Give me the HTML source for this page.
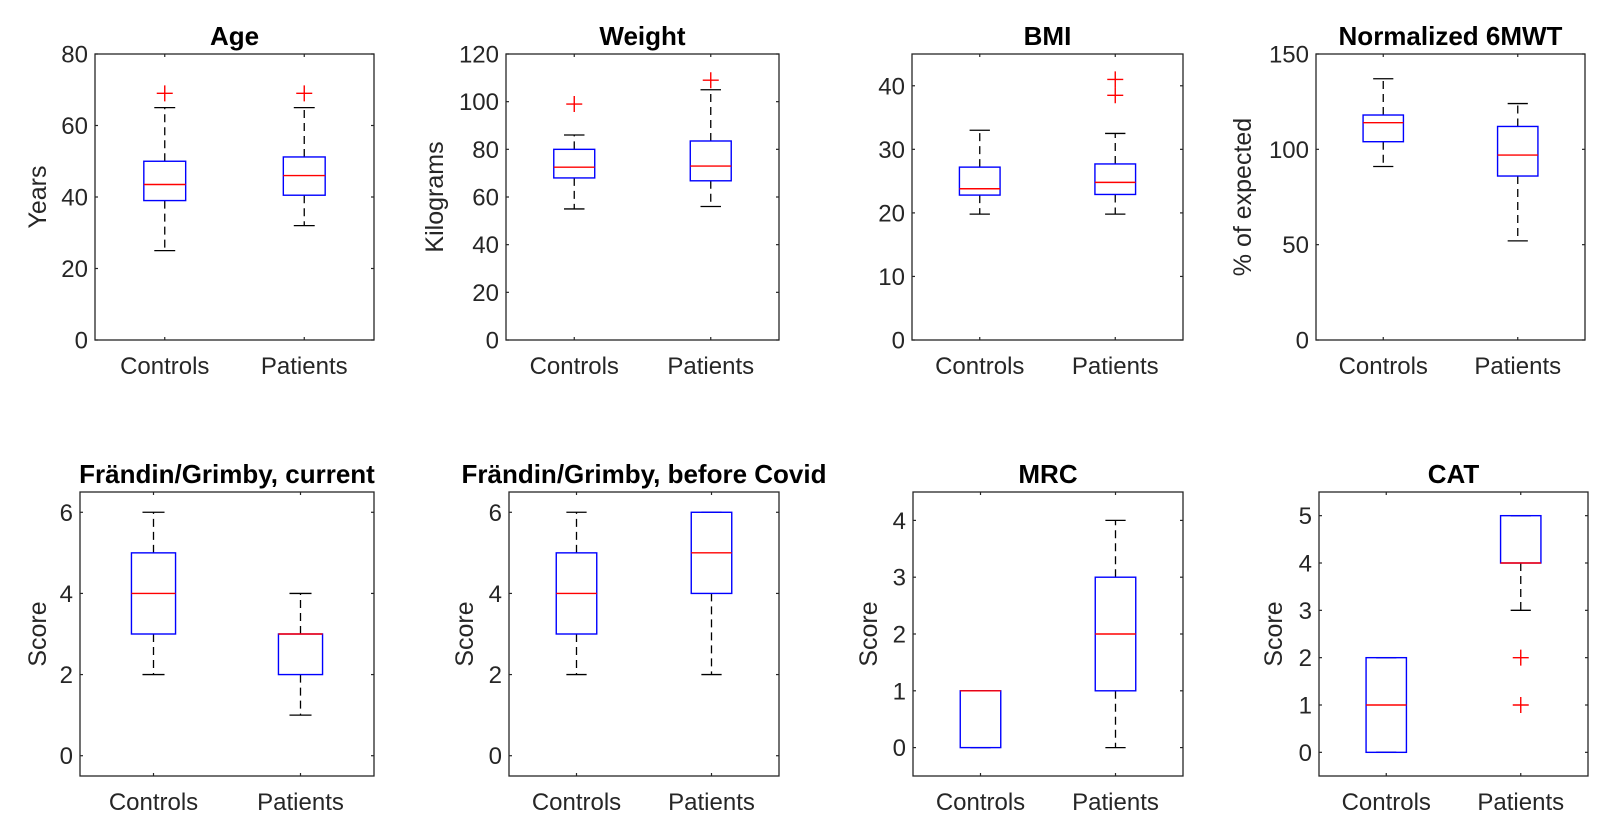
<!DOCTYPE html>
<html><head><meta charset="utf-8"><style>
html,body{margin:0;padding:0;background:#fff;}
svg{display:block;font-family:"Liberation Sans",Arial,sans-serif;}
</style></head><body>
<svg id="fig" width="1624" height="835" viewBox="0 0 1624 835" xmlns="http://www.w3.org/2000/svg"></svg>
<script>
const categories = ["Controls","Patients"];
const titles = ["Age","Weight","BMI","Normalized 6MWT","Frändin/Grimby, current","Frändin/Grimby, before Covid","MRC","CAT"];
const yLabels = ["Years","Kilograms","","% of expected","Score","Score","Score","Score"];
const yMins = [0,0,0,0,-0.5,-0.5,-0.5,-0.5];
const yMaxs = [80,120,45,150,6.5,6.5,4.5,5.5];
const yTicks = [[0,20,40,60,80],[0,20,40,60,80,100,120],[0,10,20,30,40],[0,50,100,150],[0,2,4,6],[0,2,4,6],[0,1,2,3,4],[0,1,2,3,4,5]];
// per panel: [controls, patients]
const whiskerLow = [[25,32],[55,56],[19.8,19.8],[91,52],[2,1],[2,2],[0,0],[0,3]];
const boxQ1 = [[39,40.5],[68,66.8],[22.8,22.9],[104,86],[3,2],[3,4],[0,1],[0,4]];
const medians = [[43.5,46],[72.5,73],[23.8,24.8],[114,97],[4,3],[4,5],[1,2],[1,4]];
const boxQ3 = [[50,51.2],[80,83.5],[27.2,27.7],[118,112],[5,3],[5,6],[1,3],[2,5]];
const whiskerHigh = [[65,65],[86,105],[33,32.5],[137,124],[6,4],[6,6],[1,4],[2,5]];
const outliers = [[[69],[69]],[[99],[109]],[[],[38.5,41]],[[],[]],[[],[]],[[],[]],[[],[]],[[],[2,1]]];

const layout = [
 {l:95,r:374,t:54,b:340,yl:38},{l:506,r:779,t:54,b:340,yl:435},{l:912,r:1183,t:54,b:340,yl:0},{l:1316,r:1585,t:54,b:340,yl:1243},
 {l:80,r:374,t:492,b:776,yl:38},{l:509,r:779,t:492,b:776,yl:465},{l:913,r:1183,t:492,b:776,yl:869},{l:1319,r:1588,t:492,b:776,yl:1274}
];
const NS="http://www.w3.org/2000/svg";
const svg=document.getElementById('fig');
function mk(tag,attrs,parent){const e=document.createElementNS(NS,tag);for(const k in attrs)e.setAttribute(k,attrs[k]);(parent||svg).appendChild(e);return e;}

for(let p=0;p<8;p++){
  const L=layout[p];
  const g=mk('g',{});
  
  
  const yS=v=>L.b-(v-yMins[p])/(yMaxs[p]-yMins[p])*(L.b-L.t);
  const xPos=i=>L.l+(i+0.5)/2*(L.r-L.l);
  const unit=(L.r-L.l)/2;
  const fr=mk('rect',{x:L.l,y:L.t,width:L.r-L.l,height:L.b-L.t,fill:'none',stroke:'#262626','stroke-width':1.3},g);
  
  
  yTicks[p].forEach(v=>{
    const y=yS(v);
    mk('line',{x1:L.l,x2:L.l+3,y1:y,y2:y,stroke:'#262626','stroke-width':1.2},g);
    mk('line',{x1:L.r,x2:L.r-3,y1:y,y2:y,stroke:'#262626','stroke-width':1.2},g);
    const t=mk('text',{x:L.l-7,y:y+8.5,'text-anchor':'end','font-size':24,fill:'#262626'},g);
    t.textContent=v;
    
    
  });
  categories.forEach((c,i)=>{
    const x=xPos(i);
    mk('line',{x1:x,x2:x,y1:L.b,y2:L.b-3,stroke:'#262626','stroke-width':1.2},g);
    mk('line',{x1:x,x2:x,y1:L.t,y2:L.t+3,stroke:'#262626','stroke-width':1.2},g);
    const t=mk('text',{x:x,y:L.b+34,'text-anchor':'middle','font-size':24,fill:'#262626'},g);
    t.textContent=c;
    
    
  });
  const tt=mk('text',{x:(L.l+L.r)/2,y:L.t-9,'text-anchor':'middle','font-size':26,'font-weight':'bold',fill:'#000'},g);
  tt.textContent=titles[p];
  
  
  if(yLabels[p]){
    const cy=(L.t+L.b)/2;
    const yl=mk('text',{x:L.yl,y:cy,'text-anchor':'middle','font-size':25,fill:'#262626',transform:'rotate(-90 '+L.yl+' '+cy+')','dominant-baseline':'central'},g);
    yl.textContent=yLabels[p];
    
    
  }
  categories.forEach((c,i)=>{
    const x=xPos(i), hw=unit*0.15, cw=unit*0.075;
    const bg=mk('g',{},g);
    
    
    const lo=whiskerLow[p][i],hi=whiskerHigh[p][i],q1=boxQ1[p][i],q3=boxQ3[p][i],md=medians[p][i];
    if(hi>q3) mk('line',{x1:x,x2:x,y1:yS(q3),y2:yS(hi),stroke:'#000','stroke-width':1.3,'stroke-dasharray':'8 5'},bg);
    if(lo<q1) mk('line',{x1:x,x2:x,y1:yS(q1),y2:yS(lo),stroke:'#000','stroke-width':1.3,'stroke-dasharray':'8 5'},bg);
    mk('line',{x1:x-cw,x2:x+cw,y1:yS(hi),y2:yS(hi),stroke:'#000','stroke-width':1.3},bg);
    mk('line',{x1:x-cw,x2:x+cw,y1:yS(lo),y2:yS(lo),stroke:'#000','stroke-width':1.3},bg);
    mk('rect',{x:x-hw,y:yS(q3),width:2*hw,height:Math.max(0.5,yS(q1)-yS(q3)),fill:'none',stroke:'#0000ff','stroke-width':1.4},bg);
    mk('line',{x1:x-hw,x2:x+hw,y1:yS(md),y2:yS(md),stroke:'#ff0000','stroke-width':1.4},bg);
    outliers[p][i].forEach(v=>{
      const y=yS(v);
      const o=mk('path',{d:`M${x-8},${y}H${x+8}M${x},${y-8}V${y+8}`,stroke:'#ff0000','stroke-width':1.4,fill:'none'},bg);
      
      
    });
  });
}
</script>
</body></html>
